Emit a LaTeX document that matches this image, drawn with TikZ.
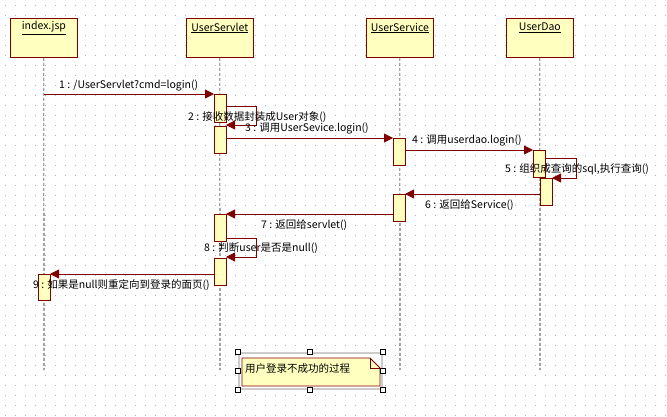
\documentclass[tikz,border=0pt]{standalone}
\usepackage{fontspec}
\setmainfont{Noto Sans CJK SC}
\usetikzlibrary{arrows.meta}
\definecolor{dred}{HTML}{800000}
\definecolor{lyel}{HTML}{FFFFC0}
\begin{document}
\begin{tikzpicture}[x=1pt,y=-1pt,font=\fontsize{10.5}{11}\selectfont,
  obj/.style={draw=dred,fill=lyel,minimum width=67pt,minimum height=39pt,anchor=north west,inner sep=0pt,line width=0.8pt},
  act/.style={draw=dred,fill=lyel,line width=0.8pt},
  life/.style={densely dashed,line width=0.6pt},
  msg/.style={dred,line width=0.8pt,-{Triangle[length=9pt,width=9pt]}},
  lbl/.style={inner sep=0pt,anchor=west,fill=none}]
\useasboundingbox (0,0) rectangle (667,416);
\fill[white] (0,0) rectangle (667,416);
\foreach \i in {5,15,...,665}{\foreach \j in {5,15,...,415}{\fill[gray!60] (\i,\j) rectangle +(0.8,0.8);}}
% objects
\node[obj] (o1) at (10,18) {};
\node[obj] (o2) at (186,18) {};
\node[obj] (o3) at (366,18) {};
\node[obj] (o4) at (506,18) {};
\node[yshift=-10pt] at (o1.north) {\underline{index.jsp}};
\node[yshift=-10pt] at (o2.north) {\underline{UserServlet}};
\node[yshift=-10pt] at (o3.north) {\underline{UserService}};
\node[yshift=-10pt] at (o4.north) {\underline{UserDao}};
\coordinate (e1) at (44,370); \coordinate (e2) at (220,370);
\coordinate (e3) at (400,370); \coordinate (e4) at (540,370);
\draw[life] (o1.south) -- (e1); \draw[life] (o2.south) -- (e2);
\draw[life] (o3.south) -- (e3); \draw[life] (o4.south) -- (e4);
% activations
\draw[act] (214,94) rectangle (226,122);
\draw[act] (214,126) rectangle (226,153);
\draw[act] (393,138) rectangle (405,165);
\draw[act] (533,150) rectangle (545,177);
\draw[act] (540,178) rectangle (552,205);
\draw[act] (393,194) rectangle (405,221);
\draw[act] (214,214) rectangle (226,241);
\draw[act] (214,258) rectangle (226,285);
\draw[act] (38,274) rectangle (50,300);
% messages
\coordinate (a1) at (44,94); \coordinate (b1) at (214,94);
\draw[msg] (a1) -- (b1);
\node[lbl] at (59,86) {1 : /UserServlet?cmd=login()};
\coordinate (a2) at (226,106); \coordinate (b2) at (226,125);
\draw[msg] (a2) -- (256,106) -- (256,125) -- (b2);
\node[lbl] at (188,117) {2 : 接收数据封装成User对象()};
\coordinate (a3) at (226,138); \coordinate (b3) at (393,138);
\draw[msg] (a3) -- (b3);
\node[lbl] at (245,129) {3 : 调用UserSevice.login()};
\coordinate (a4) at (405,150); \coordinate (b4) at (533,150);
\draw[msg] (a4) -- (b4);
\node[lbl] at (412,141) {4 : 调用userdao.login()};
\coordinate (a5) at (545,158); \coordinate (b5) at (552,178);
\draw[msg] (a5) -- (576,158) -- (576,178) -- (b5);
\node[lbl] at (505,169) {5 : 组织成查询的sql,执行查询()};
\coordinate (a6) at (540,194); \coordinate (b6) at (405,194);
\draw[msg] (a6) -- (b6);
\node[lbl] at (425,205) {6 : 返回给Service()};
\coordinate (a7) at (393,214); \coordinate (b7) at (226,214);
\draw[msg] (a7) -- (b7);
\node[lbl] at (261,225) {7 : 返回给servlet()};
\coordinate (a8) at (226,238); \coordinate (b8) at (226,257);
\draw[msg] (a8) -- (256,238) -- (256,257) -- (b8);
\node[lbl] at (204,248) {8 : 判断user是否是null()};
\coordinate (a9) at (214,274); \coordinate (b9) at (50,274);
\draw[msg] (a9) -- (b9);
\node[lbl] at (33,285) {9 : 如果是null则重定向到登录的面页()};
% note
\fill[gray!40] (238,352) rectangle (383,390);
\fill[white] (240,354) rectangle (381,388);
\draw[dred,fill=lyel,line width=0.8pt] (242,358) -- (370,358) -- (380,368) -- (380,386) -- (242,386) -- cycle;
\draw[dred,line width=0.8pt] (370,358) -- (370,368) -- (380,368);
\node[lbl] (note) at (245,369) {用户登录不成功的过程};
\foreach \x in {238,310,383}{\foreach \y in {352,371,390}{
  \ifnum\x=310 \ifnum\y=371 \else \draw[fill=white] (\x-2.5,\y-2.5) rectangle +(5,5); \fi
  \else \draw[fill=white] (\x-2.5,\y-2.5) rectangle +(5,5); \fi}}
\end{tikzpicture}
\end{document}
